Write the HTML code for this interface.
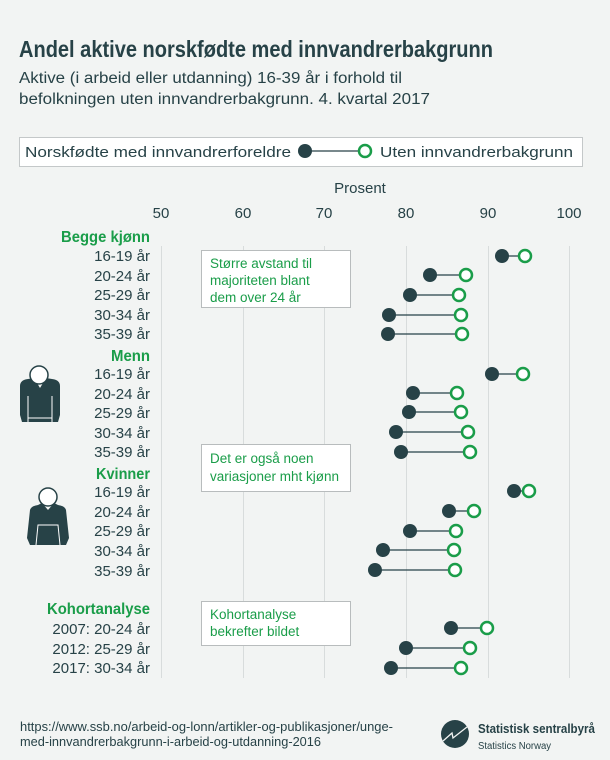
<!DOCTYPE html>
<html><head><meta charset="utf-8"><style>
html,body{margin:0;padding:0;background:#f2f4f3;}
svg{display:block;font-family:"Liberation Sans",sans-serif;}
</style></head><body>
<svg width="610" height="760" viewBox="0 0 610 760" xmlns="http://www.w3.org/2000/svg">
<rect width="610" height="760" fill="#f2f4f3"/>
<text x="19" y="57" font-weight="bold" font-size="23" fill="#274247" textLength="474" lengthAdjust="spacingAndGlyphs">Andel aktive norskfødte med innvandrerbakgrunn</text>
<text x="19" y="83" font-size="15.5" fill="#274247" textLength="383" lengthAdjust="spacingAndGlyphs">Aktive (i arbeid eller utdanning) 16-39 år i forhold til</text>
<text x="19" y="104" font-size="15.5" fill="#274247" textLength="411" lengthAdjust="spacingAndGlyphs">befolkningen uten innvandrerbakgrunn. 4. kvartal 2017</text>
<rect x="19.5" y="137.5" width="563" height="29" fill="#fff" stroke="#c4c8c9"/>
<text x="25" y="157" font-size="15" fill="#274247" textLength="266" lengthAdjust="spacingAndGlyphs">Norskfødte med innvandrerforeldre</text>
<line x1="305" y1="151" x2="365" y2="151" stroke="#274247" stroke-width="1.3"/>
<circle cx="305" cy="151" r="7" fill="#274247"/>
<circle cx="365" cy="151" r="6" fill="#fff" stroke="#1a9d49" stroke-width="2.5"/>
<text x="380" y="157" font-size="15" fill="#274247" textLength="193" lengthAdjust="spacingAndGlyphs">Uten innvandrerbakgrunn</text>
<text x="360" y="193" font-size="15" text-anchor="middle" fill="#274247">Prosent</text>
<g font-size="15" fill="#274247" text-anchor="middle">
<text x="161" y="218">50</text><text x="243" y="218">60</text><text x="324" y="218">70</text><text x="406" y="218">80</text><text x="488" y="218">90</text><text x="569" y="218">100</text>
</g>
<g stroke="#d8dcdc" stroke-width="1">
<line x1="161.5" y1="246" x2="161.5" y2="678"/><line x1="243.5" y1="246" x2="243.5" y2="678"/><line x1="324.5" y1="246" x2="324.5" y2="678"/><line x1="406.5" y1="246" x2="406.5" y2="678"/><line x1="488.5" y1="246" x2="488.5" y2="678"/><line x1="569.5" y1="246" x2="569.5" y2="678"/>
</g>
<g font-weight="bold" font-size="16" fill="#1a9d49" lengthAdjust="spacingAndGlyphs">
<text x="61" y="242" textLength="89" lengthAdjust="spacingAndGlyphs">Begge kjønn</text>
<text x="111" y="361" textLength="39" lengthAdjust="spacingAndGlyphs">Menn</text>
<text x="96" y="479" textLength="54" lengthAdjust="spacingAndGlyphs">Kvinner</text>
<text x="47" y="614" textLength="103" lengthAdjust="spacingAndGlyphs">Kohortanalyse</text>
</g>
<g font-size="15" fill="#274247" text-anchor="end">
<text x="150" y="261">16-19 år</text><text x="150" y="281">20-24 år</text><text x="150" y="300">25-29 år</text><text x="150" y="320">30-34 år</text><text x="150" y="339">35-39 år</text>
<text x="150" y="379">16-19 år</text><text x="150" y="399">20-24 år</text><text x="150" y="418">25-29 år</text><text x="150" y="438">30-34 år</text><text x="150" y="457">35-39 år</text>
<text x="150" y="497">16-19 år</text><text x="150" y="517">20-24 år</text><text x="150" y="536">25-29 år</text><text x="150" y="556">30-34 år</text><text x="150" y="576">35-39 år</text>
<text x="150" y="634">2007: 20-24 år</text><text x="150" y="654">2012: 25-29 år</text><text x="150" y="673">2017: 30-34 år</text>
</g>
<g>
<g stroke="#274247" stroke-width="1.3">
<line x1="502" y1="256" x2="525" y2="256"/><line x1="430" y1="275" x2="466" y2="275"/><line x1="410" y1="295" x2="459" y2="295"/><line x1="389" y1="315" x2="461" y2="315"/><line x1="388" y1="334" x2="462" y2="334"/>
<line x1="492" y1="374" x2="523" y2="374"/><line x1="413" y1="393" x2="457" y2="393"/><line x1="409" y1="412" x2="461" y2="412"/><line x1="396" y1="432" x2="468" y2="432"/><line x1="401" y1="452" x2="470" y2="452"/>
<line x1="514" y1="491" x2="529" y2="491"/><line x1="449" y1="511" x2="474" y2="511"/><line x1="410" y1="531" x2="456" y2="531"/><line x1="383" y1="550" x2="454" y2="550"/><line x1="375" y1="570" x2="455" y2="570"/>
<line x1="451" y1="628" x2="487" y2="628"/><line x1="406" y1="648" x2="470" y2="648"/><line x1="391" y1="668" x2="461" y2="668"/>
</g>
<g fill="#274247">
<circle cx="502" cy="256" r="7"/><circle cx="430" cy="275" r="7"/><circle cx="410" cy="295" r="7"/><circle cx="389" cy="315" r="7"/><circle cx="388" cy="334" r="7"/>
<circle cx="492" cy="374" r="7"/><circle cx="413" cy="393" r="7"/><circle cx="409" cy="412" r="7"/><circle cx="396" cy="432" r="7"/><circle cx="401" cy="452" r="7"/>
<circle cx="514" cy="491" r="7"/><circle cx="449" cy="511" r="7"/><circle cx="410" cy="531" r="7"/><circle cx="383" cy="550" r="7"/><circle cx="375" cy="570" r="7"/>
<circle cx="451" cy="628" r="7"/><circle cx="406" cy="648" r="7"/><circle cx="391" cy="668" r="7"/>
</g>
<g fill="#fff" stroke="#1a9d49" stroke-width="2.5">
<circle cx="525" cy="256" r="6"/><circle cx="466" cy="275" r="6"/><circle cx="459" cy="295" r="6"/><circle cx="461" cy="315" r="6"/><circle cx="462" cy="334" r="6"/>
<circle cx="523" cy="374" r="6"/><circle cx="457" cy="393" r="6"/><circle cx="461" cy="412" r="6"/><circle cx="468" cy="432" r="6"/><circle cx="470" cy="452" r="6"/>
<circle cx="529" cy="491" r="6"/><circle cx="474" cy="511" r="6"/><circle cx="456" cy="531" r="6"/><circle cx="454" cy="550" r="6"/><circle cx="455" cy="570" r="6"/>
<circle cx="487" cy="628" r="6"/><circle cx="470" cy="648" r="6"/><circle cx="461" cy="668" r="6"/>
</g>
</g>
<g font-size="13.5" fill="#1a9d49">
<rect x="201.5" y="250.5" width="149" height="57" fill="#fff" stroke="#b8bcbd"/>
<text x="210" y="268">Større avstand til</text><text x="210" y="285">majoriteten blant</text><text x="210" y="302">dem over 24 år</text>
<rect x="201.5" y="444.5" width="149" height="47" fill="#fff" stroke="#b8bcbd"/>
<text x="210" y="463">Det er også noen</text><text x="210" y="481">variasjoner mht kjønn</text>
<rect x="201.5" y="601.5" width="149" height="44" fill="#fff" stroke="#b8bcbd"/>
<text x="210" y="619">Kohortanalyse</text><text x="210" y="636">bekrefter bildet</text>
</g>
<g>
<path d="M20 386 Q20 380 28 379 L34 378 L40 388 L46 378 L52 379 Q60 380 60 386 L60 415 L58 422 L22 422 L20 415 Z" fill="#274247"/>
<line x1="28" y1="396" x2="28" y2="422" stroke="#fff" stroke-width="1"/><line x1="52" y1="396" x2="52" y2="422" stroke="#fff" stroke-width="1"/><line x1="28" y1="418" x2="52" y2="418" stroke="#fff" stroke-width="1"/>
<circle cx="39" cy="375" r="9" fill="#fff" stroke="#274247" stroke-width="1.5"/>
</g>
<g>
<path d="M30 510 Q31 506 38 505 L42 503 L48 510 L54 503 L58 505 Q65 506 66 510 L69 538 L66 545 L30 545 L27 538 Z" fill="#274247"/>
<path d="M36 545 L38 525 L58 525 L60 545" fill="none" stroke="#fff" stroke-width="1"/>
<circle cx="48" cy="497" r="9" fill="#fff" stroke="#274247" stroke-width="1.5"/>
</g>
<g font-size="12.5" fill="#274247">
<text x="20" y="731" textLength="373" lengthAdjust="spacingAndGlyphs">https://www.ssb.no/arbeid-og-lonn/artikler-og-publikasjoner/unge-</text>
<text x="20" y="746" textLength="301" lengthAdjust="spacingAndGlyphs">med-innvandrerbakgrunn-i-arbeid-og-utdanning-2016</text>
</g>
<circle cx="455" cy="734" r="14" fill="#274247"/>
<path d="M443 741 L452 733 L453 738 L467 727" fill="none" stroke="#f2f4f3" stroke-width="1.3"/>
<text x="478" y="733" font-size="13" font-weight="bold" fill="#274247" textLength="117" lengthAdjust="spacingAndGlyphs">Statistisk sentralbyrå</text>
<text x="478" y="749" font-size="10" fill="#274247" textLength="73" lengthAdjust="spacingAndGlyphs">Statistics Norway</text>
</svg>
</body></html>
